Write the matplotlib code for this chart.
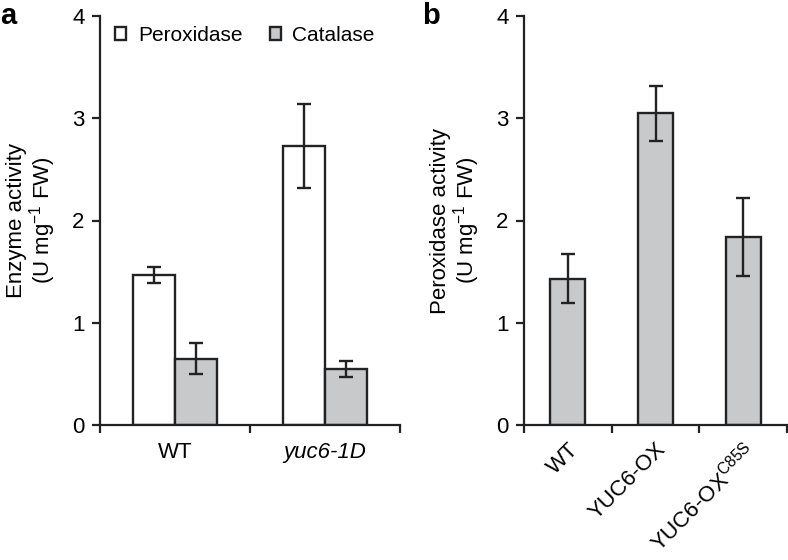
import matplotlib
matplotlib.use("Agg")
import matplotlib.pyplot as plt
import numpy as np
from matplotlib.patches import Patch

plt.rcParams['font.family'] = ['Liberation Sans', 'DejaVu Sans']
plt.rcParams['mathtext.fontset'] = 'custom'
plt.rcParams['mathtext.rm'] = 'Liberation Sans'
plt.rcParams['mathtext.it'] = 'Liberation Sans:italic'

# panel a data
groups_a = ["WT", "yuc6-1D"]
perox_a = [1.47, 2.73]
perox_a_err = [0.08, 0.41]
catal_a = [0.65, 0.55]
catal_a_err = [0.15, 0.08]

# panel b data
groups_b = ["WT", "YUC6-OX", "YUC6-OX$^{\\mathrm{C85S}}$"]
perox_b = [1.43, 3.05, 1.84]
perox_b_err = [0.24, 0.27, 0.38]

GRAY = "#c8c9cb"
EDGE = "#222222"
LW = 1.3
FS = 16

fig = plt.figure(figsize=(7.88, 5.6), dpi=100)
ax1 = fig.add_axes([100 / 788, 1 - 425 / 560, 300 / 788, 409 / 560])
ax2 = fig.add_axes([524 / 788, 1 - 425 / 560, 263 / 788, 409 / 560])


def style(ax, n):
    ax.set_ylim(0, 4)
    ax.set_xlim(-0.5, n - 0.5)
    for s in ["top", "right"]:
        ax.spines[s].set_visible(False)
    for s in ["left", "bottom"]:
        ax.spines[s].set_linewidth(LW + 0.3)
        ax.spines[s].set_color(EDGE)
    ax.set_yticks([0, 1, 2, 3, 4])
    ax.set_yticklabels(["0", "1", "2", "3", "4"], fontsize=FS)
    ax.tick_params(axis="y", direction="out", length=6, width=LW + 0.3, color=EDGE, pad=5)
    ax.set_xticks(np.arange(n + 1) - 0.5)
    ax.set_xticklabels([])
    ax.tick_params(axis="x", which="major", direction="out", length=6, width=LW + 0.3, color=EDGE)
    ax.set_xticks(np.arange(n), minor=True)
    ax.tick_params(axis="x", which="minor", length=0, labelsize=FS)


# panel a
x = np.arange(len(groups_a))
w = 0.28
err_kw = dict(elinewidth=LW + 0.4, capsize=5, capthick=LW + 0.4, ecolor=EDGE)
ax1.bar(x - w / 2, perox_a, w, yerr=perox_a_err, color="white", edgecolor=EDGE,
        linewidth=LW + 0.4, error_kw=err_kw, zorder=2)
ax1.bar(x + w / 2, catal_a, w, yerr=catal_a_err, color=GRAY, edgecolor=EDGE,
        linewidth=LW + 0.4, error_kw=err_kw, zorder=2)
style(ax1, len(groups_a))
ax1.set_xticklabels(groups_a, minor=True)
ax1.get_xticklabels(minor=True)[1].set_fontstyle("italic")
ax1.tick_params(axis="x", which="minor", pad=12)
ax1.set_ylabel("Enzyme activity\n(U mg$^{-1}$ FW)", fontsize=FS, labelpad=10,
               linespacing=1.0)
handles = [Patch(facecolor="white", edgecolor=EDGE, linewidth=LW + 0.4, label="Peroxidase"),
           Patch(facecolor=GRAY, edgecolor=EDGE, linewidth=LW + 0.4, label="Catalase")]
ax1.legend(handles=handles, loc="upper left", bbox_to_anchor=(15 / 300, 1 - 10 / 409), ncol=2,
           frameon=False, fontsize=15, handlelength=0.55, handleheight=0.55,
           handletextpad=0.55, columnspacing=1.3, borderpad=0, borderaxespad=0)

# panel b
xb = np.arange(len(groups_b))
ax2.bar(xb, perox_b, 0.40, yerr=perox_b_err, color=GRAY, edgecolor=EDGE,
        linewidth=LW + 0.4, error_kw=err_kw, zorder=2)
style(ax2, len(groups_b))
ax2.set_xticklabels(groups_b, minor=True, rotation=45, ha="right", rotation_mode="anchor")
ax2.tick_params(axis="x", which="minor", pad=10)
ax2.set_ylabel("Peroxidase activity\n(U mg$^{-1}$ FW)", fontsize=FS, labelpad=10,
               linespacing=1.0)

fig.text(0 / 788, 1 - 24 / 560, "a", fontsize=21, fontweight="bold", va="baseline")
fig.text(422 / 788, 1 - 24 / 560, "b", fontsize=21, fontweight="bold", va="baseline")

fig.savefig("out.png", dpi=100)
